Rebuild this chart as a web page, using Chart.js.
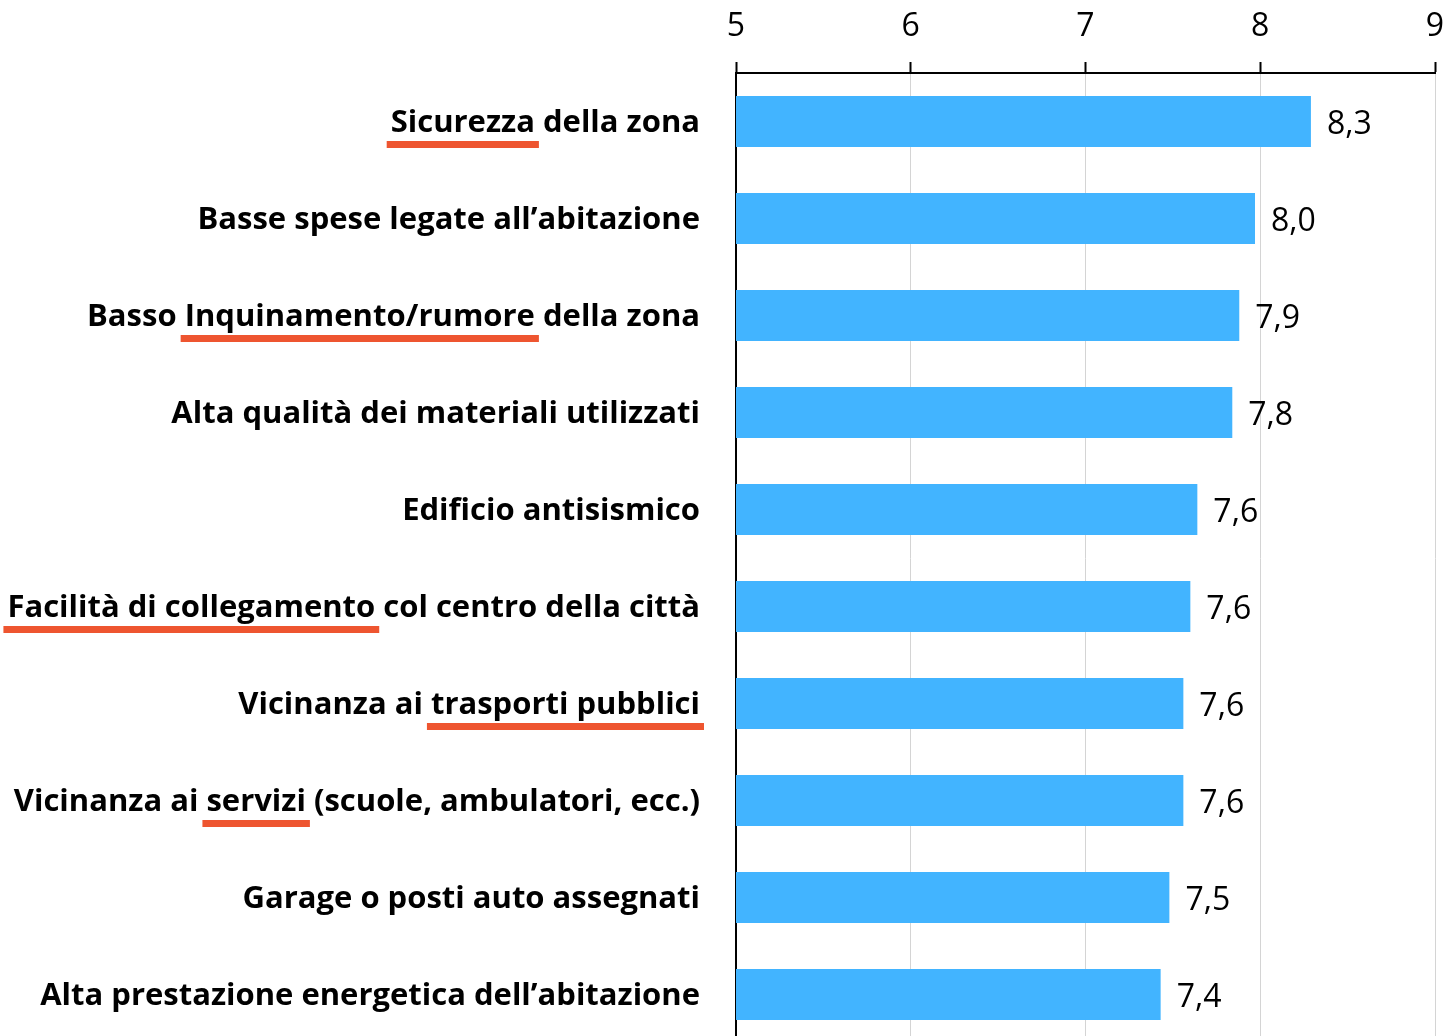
<!DOCTYPE html>
<html>
<head>
<meta charset="utf-8">
<script src="https://cdn.jsdelivr.net/npm/chart.js@4"></script>
<style>
  html, body { margin: 0; padding: 0; background: #fff; overflow: hidden; }
  #wrap { width: 1445px; height: 1043px; }
</style>
</head>
<body>
<div id="wrap"><canvas id="c" width="1445" height="1043"></canvas></div>
<script>
const categories = [
  "Sicurezza della zona",
  "Basse spese legate all\u2019abitazione",
  "Basso Inquinamento/rumore della zona",
  "Alta qualità dei materiali utilizzati",
  "Edificio antisismico",
  "Facilità di collegamento col centro della città",
  "Vicinanza ai trasporti pubblici",
  "Vicinanza ai servizi (scuole, ambulatori, ecc.)",
  "Garage o posti auto assegnati",
  "Alta prestazione energetica dell\u2019abitazione"
];
const values = [8.29, 7.97, 7.88, 7.84, 7.64, 7.60, 7.56, 7.56, 7.48, 7.43];
const tickValues = [5, 6, 7, 8, 9];
// highlighted (underlined) phrases: [category index, phrase]
const highlights = [
  [0, "Sicurezza"],
  [2, "Inquinamento/rumore"],
  [5, "Facilità di collegamento"],
  [6, "trasporti pubblici"],
  [7, "servizi"]
];

const FONT = "'Open Sans', Lato, sans-serif";
const LABEL_FONT = { family: FONT, size: 31, weight: 'bold' };
const NUM_SIZE = 32;
const LABEL_PAD = 36;

const dataLabelPlugin = {
  id: 'dataLabels',
  afterDatasetsDraw(chart) {
    const ctx = chart.ctx;
    const meta = chart.getDatasetMeta(0);
    ctx.save();
    ctx.font = `${NUM_SIZE}px ${FONT}`;
    ctx.fillStyle = '#000';
    ctx.textAlign = 'left';
    ctx.textBaseline = 'middle';
    meta.data.forEach((el, i) => {
      const txt = values[i].toFixed(1).replace('.', ',');
      ctx.fillText(txt, el.x + 16, el.y + 3);
    });
    ctx.restore();
  }
};

const underlinePlugin = {
  id: 'underlines',
  afterDraw(chart) {
    const ctx = chart.ctx;
    const ys = chart.scales.y;
    const rightX = ys.right - LABEL_PAD;
    ctx.save();
    ctx.font = `bold ${LABEL_FONT.size}px ${FONT}`;
    ctx.strokeStyle = '#EE5530';
    ctx.lineWidth = 7;
    ctx.lineCap = 'butt';
    highlights.forEach(([idx, phrase]) => {
      const label = categories[idx];
      const start = label.indexOf(phrase);
      const fullW = ctx.measureText(label).width;
      const preW = ctx.measureText(label.slice(0, start)).width;
      const phW = ctx.measureText(phrase).width;
      const x0 = rightX - fullW + preW - 4;
      const x1 = x0 + phW + 8;
      const y = ys.getPixelForTick(idx) + 23;
      ctx.beginPath();
      ctx.moveTo(x0, y);
      ctx.lineTo(x1, y);
      ctx.stroke();
    });
    ctx.restore();
  }
};

new Chart(document.getElementById('c'), {
  type: 'bar',
  data: {
    labels: categories,
    datasets: [{
      data: values,
      backgroundColor: '#42B4FF',
      borderWidth: 0,
      categoryPercentage: 1,
      barPercentage: 0.526
    }]
  },
  options: {
    indexAxis: 'y',
    responsive: false,
    animation: false,
    events: [],
    layout: { padding: { left: 0, right: 10, top: 0, bottom: 0 } },
    plugins: { legend: { display: false }, tooltip: { enabled: false } },
    scales: {
      x: {
        position: 'top',
        min: tickValues[0],
        max: tickValues[tickValues.length - 1],
        afterBuildTicks(scale) { scale.ticks = tickValues.map(v => ({ value: v })); },
        afterFit(scale) {
          scale.height = 73;
          scale.paddingLeft = 0; scale.paddingRight = 0;
        },
        ticks: {
          font: { family: FONT, size: NUM_SIZE },
          color: '#000',
          padding: 16,
          maxRotation: 0,
          callback: v => String(v)
        },
        grid: {
          color: '#D4D4D4',
          lineWidth: 1,
          tickColor: '#000',
          tickLength: 11,
          tickWidth: 2,
          drawTicks: true
        },
        border: { display: true, color: '#000', width: 2 }
      },
      y: {
        afterFit(scale) {
          scale.width = 736;
          scale.paddingTop = 0; scale.paddingBottom = 0;
        },
        ticks: {
          font: LABEL_FONT,
          color: '#000',
          padding: LABEL_PAD,
          labelOffset: 2
        },
        grid: { display: false, drawTicks: false },
        border: { display: true, color: '#000', width: 2 }
      }
    }
  },
  plugins: [dataLabelPlugin, underlinePlugin]
});
</script>
</body>
</html>
